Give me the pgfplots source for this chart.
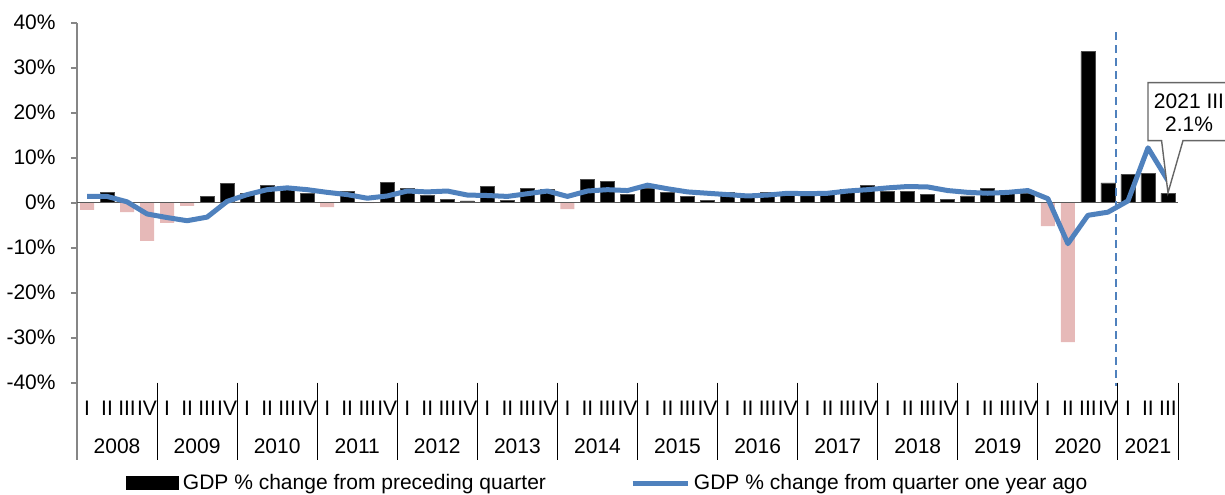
\documentclass[border=0pt]{standalone}
\usepackage{pgfplots}
\pgfplotsset{compat=1.18}
\usepackage{fontspec}
\setmainfont{Liberation Sans}
\definecolor{barpink}{HTML}{E6B9B8}
\definecolor{lineblue}{HTML}{4F81BD}
\definecolor{axgray}{HTML}{868686}
\begin{document}
\fontsize{10.5pt}{12.6pt}\selectfont
\begin{tikzpicture}
\begin{axis}[
  at={(0,0)}, anchor=south west,
  scale only axis, width=550.5pt, height=180pt,
  xmin=-0.5, xmax=54.5, ymin=-40, ymax=40,
  axis y line*=left, axis x line=none,
  y axis line style={axgray, line width=0.9pt},
  ytick={-40,-30,...,40},
  yticklabels={-40\%,-30\%,-20\%,-10\%,0\%,10\%,20\%,30\%,40\%},
  major tick style={axgray, line width=0.9pt},
  tick align=outside, major tick length=3pt,
  yticklabel style={xshift=-4pt},
  every tick label/.append style={font=\fontsize{10.5pt}{12.6pt}\selectfont},
  clip=false,
  legend columns=2,
  legend style={draw=none, at={(0.483,0)}, anchor=center, yshift=-50.15pt,
    font=\fontsize{10.5pt}{12.6pt}\selectfont,
    /tikz/every even column/.append style={column sep=40pt}},
]
% bars: change from preceding quarter
\addplot[ybar, bar width=7pt, bar shift=0pt, fill=barpink, draw=none, forget plot] coordinates {
(0,-1.6) (2,-2.1) (3,-8.5) (4,-4.5) (5,-0.7) (12,-1.0) (14,-0.1) (24,-1.4) (48,-5.2) (49,-31.0)};
\addplot[ybar, bar width=7pt, bar shift=0pt, fill=black, draw=gray!60!black, line width=0.4pt, forget plot] coordinates {
(1,2.3) (6,1.4) (7,4.2) (8,2.0) (9,3.8) (10,3.5) (11,2.0) (13,2.6) (15,4.5) (16,3.1) (17,1.6) (18,0.7) (19,0.4)
(20,3.6) (21,0.5) (22,3.2) (23,2.9) (25,5.1) (26,4.7) (27,1.8) (28,3.1) (29,2.3) (30,1.3) (31,0.5)
(32,2.3) (33,1.3) (34,2.3) (35,1.9) (36,1.7) (37,2.0) (38,2.9) (39,3.8) (40,2.6) (41,2.6) (42,1.8) (43,0.8)
(44,1.5) (45,3.1) (46,2.0) (47,2.0) (50,33.6) (51,4.4) (52,6.3) (53,6.6) (54,2.1)};
% zero line
\draw[gray!70!black, line width=0.6pt] (axis cs:-0.5,0) -- (axis cs:54.5,0);
% line: change from quarter one year ago
\addplot[lineblue, line width=2.5pt, line join=round, mark=none, forget plot] coordinates {
(0,1.4) (1,1.4) (2,0.2) (3,-2.5) (4,-3.3) (5,-4.0) (6,-3.2) (7,0.3) (8,1.8) (9,2.9) (10,3.3) (11,2.9)
(12,2.3) (13,1.8) (14,1.0) (15,1.5) (16,2.6) (17,2.4) (18,2.6) (19,1.7) (20,1.6) (21,1.4) (22,2.0) (23,2.6)
(24,1.4) (25,2.6) (26,2.9) (27,2.7) (28,3.9) (29,3.1) (30,2.4) (31,2.1) (32,1.8) (33,1.5) (34,1.7) (35,2.1)
(36,2.0) (37,2.1) (38,2.6) (39,2.9) (40,3.3) (41,3.6) (42,3.5) (43,2.7) (44,2.3) (45,2.1) (46,2.3) (47,2.7)
(48,0.9) (49,-9.1) (50,-2.8) (51,-2.1) (52,0.4) (53,12.2) (54,4.9)};
% legend
\addlegendimage{legend image code/.code={\fill[black] (0pt,-3.25pt) rectangle (26pt,3.25pt);}}
\addlegendentry{GDP \% change from preceding quarter}
\addlegendimage{legend image code/.code={\draw[lineblue, line width=2.5pt] (0pt,0pt) -- (27.5pt,0pt);}}
\addlegendentry{GDP \% change from quarter one year ago}
% dashed marker line
\draw[lineblue, line width=0.8pt, dash pattern=on 4pt off 2.5pt] (axis cs:51.4,37.9) -- (axis cs:51.4,-40.7);
% axis extension and year separators
\draw[axgray, line width=0.9pt] (axis cs:-0.5,-40) -- ++(0pt,-38.65pt);
\pgfplotsinvokeforeach{3.5,7.5,11.5,15.5,19.5,23.5,27.5,31.5,35.5,39.5,43.5,47.5,51.5,54.5}{
  \draw[black, line width=0.5pt] (axis cs:#1,-40) -- ++(0pt,-38.65pt);
}
% quarter labels
\pgfplotsinvokeforeach{0,4,8,12,16,20,24,28,32,36,40,44,48,52}{
  \path (axis cs:#1,-40) node[yshift=-12.65pt] {I};
}
\pgfplotsinvokeforeach{1,5,9,13,17,21,25,29,33,37,41,45,49,53}{
  \path (axis cs:#1,-40) node[yshift=-12.65pt] {II};
}
\pgfplotsinvokeforeach{2,6,10,14,18,22,26,30,34,38,42,46,50,54}{
  \path (axis cs:#1,-40) node[yshift=-12.65pt] {III};
}
\pgfplotsinvokeforeach{3,7,11,15,19,23,27,31,35,39,43,47,51}{
  \path (axis cs:#1,-40) node[yshift=-12.65pt] {IV};
}
% year labels
\path (axis cs:1.5,-40) node[yshift=-31.65pt] {2008};
\path (axis cs:5.5,-40) node[yshift=-31.65pt] {2009};
\path (axis cs:9.5,-40) node[yshift=-31.65pt] {2010};
\path (axis cs:13.5,-40) node[yshift=-31.65pt] {2011};
\path (axis cs:17.5,-40) node[yshift=-31.65pt] {2012};
\path (axis cs:21.5,-40) node[yshift=-31.65pt] {2013};
\path (axis cs:25.5,-40) node[yshift=-31.65pt] {2014};
\path (axis cs:29.5,-40) node[yshift=-31.65pt] {2015};
\path (axis cs:33.5,-40) node[yshift=-31.65pt] {2016};
\path (axis cs:37.5,-40) node[yshift=-31.65pt] {2017};
\path (axis cs:41.5,-40) node[yshift=-31.65pt] {2018};
\path (axis cs:45.5,-40) node[yshift=-31.65pt] {2019};
\path (axis cs:49.5,-40) node[yshift=-31.65pt] {2020};
\path (axis cs:53,-40) node[yshift=-31.65pt] {2021};
% callout
\draw[gray!80!black, line width=0.7pt, fill=white] (axis cs:53.0,26.7) -- (axis cs:57.2,26.7) -- (axis cs:57.2,13.8)
  -- (axis cs:54.75,13.8) -- (axis cs:54.0,2.2) -- (axis cs:53.68,13.8) -- (axis cs:53.0,13.8) -- cycle;
\node[align=center, font=\fontsize{10.5pt}{11.65pt}\selectfont] at (axis cs:55.05,20.0) {2021 III\\2.1\%};
\end{axis}
\pgfresetboundingbox
\path[use as bounding box] (-38.5pt,-55.65pt) rectangle (574pt,191.35pt);
\end{tikzpicture}
\end{document}
